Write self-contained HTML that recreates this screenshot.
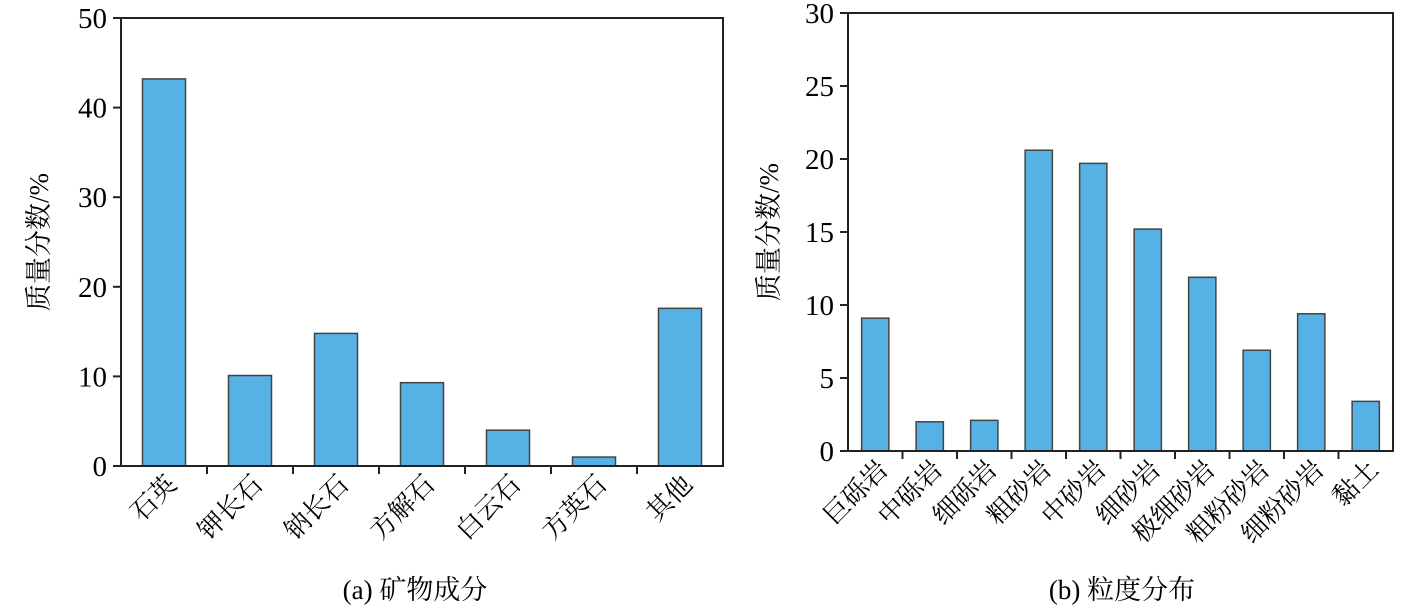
<!DOCTYPE html>
<html><head><meta charset="utf-8"><style>
body{margin:0;background:#fff}
svg text{font-family:"Liberation Serif","Noto Serif CJK SC",serif;fill:#000}
</style></head><body>
<svg id="c" width="1417" height="611" viewBox="0 0 1417 611" xmlns="http://www.w3.org/2000/svg"></svg>
<script>
const catsA=["石英","钾长石","钠长石","方解石","白云石","方英石","其他"];
const valsA=[43.2,10.1,14.8,9.3,4.0,1.0,17.6];
const ticksA=[0,10,20,30,40,50];
const catsB=["巨砾岩","中砾岩","细砾岩","粗砂岩","中砂岩","细砂岩","极细砂岩","粗粉砂岩","细粉砂岩","黏土"];
const valsB=[9.1,2.0,2.1,20.6,19.7,15.2,11.9,6.9,9.4,3.4];
const ticksB=[0,5,10,15,20,25,30];
const svg=document.getElementById('c');
const NS="http://www.w3.org/2000/svg";
function mk(tag,attrs,parent){const e=document.createElementNS(NS,tag);for(const k in attrs)e.setAttribute(k,attrs[k]);(parent||svg).appendChild(e);return e;}
function chart(id,cats,vals,ticks,L,R,T,B,ymax,caption,capX,titleX){
  const g=mk('g',{});
  
  
  const bw=(R-L)/cats.length;
  const y=v=>B-(v/ymax)*(B-T);
  vals.forEach((v,i)=>{
    const r=mk('rect',{x:L+i*bw+bw/4,y:y(v),width:bw/2,height:B-y(v),fill:'#56b1e4',stroke:'#444','stroke-width':1.5},g);
    
    
  });
  const f=mk('rect',{x:L,y:T,width:R-L,height:B-T,fill:'none',stroke:'#222','stroke-width':2},g);
  
  
  ticks.forEach(t=>{
    mk('line',{x1:L-8,x2:L,y1:y(t),y2:y(t),stroke:'#222','stroke-width':2},g);
    const tx=mk('text',{x:L-14,y:y(t)+10,'text-anchor':'end','font-size':29},g);
    tx.textContent=t;
    
    
  });
  cats.forEach((c,i)=>{
    if(i>0) mk('line',{x1:L+i*bw,x2:L+i*bw,y1:B,y2:B+8,stroke:'#222','stroke-width':2},g);
    const cx=L+i*bw+bw/2+14, cy=B+20;
    const tx=mk('text',{x:cx,y:cy,'text-anchor':'end','font-size':26,transform:`rotate(-45 ${cx} ${cy})`},g);
    tx.textContent=c;
    
    
  });
  const ty=(T+B)/2;
  const yt=mk('text',{x:titleX,y:ty,'text-anchor':'middle','font-size':27,transform:`rotate(-90 ${titleX} ${ty})`},g);
  yt.textContent="质量分数/%";
  
  
  const cp=mk('text',{x:capX,y:599,'text-anchor':'middle','font-size':27},g);
  cp.textContent=caption;
  
  
}
chart('chart-mineral',catsA,valsA,ticksA,121,723,18,466,50,"(a) 矿物成分",415,48);
chart('chart-grain',catsB,valsB,ticksB,848,1393,13,451,30,"(b) 粒度分布",1122,778);
</script>
</body></html>
